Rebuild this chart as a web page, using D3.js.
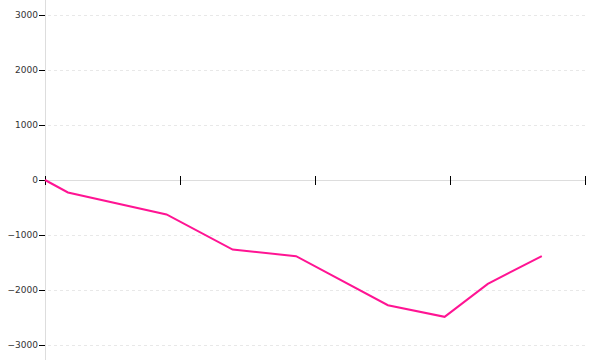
<!DOCTYPE html>
<html>
<head>
<meta charset="utf-8">
<script src="https://cdn.jsdelivr.net/npm/d3@7"></script>
<style>
  body { margin: 0; background: #fff; }
  svg { display: block; font-family: "DejaVu Sans", sans-serif; }
</style>
</head>
<body>
<div id="chart"></div>
<script>
// data
var xValues = [0, 0.17, 0.9, 1.39, 1.86, 2.54, 2.96, 3.28, 3.68];
var yValues = [0, -227, -627, -1264, -1385, -2276, -2488, -1888, -1385];
var xTicks = [0, 1, 2, 3, 4];
var yTicks = [-3000, -2000, -1000, 0, 1000, 2000, 3000];

var width = 600, height = 360;

var svg = d3.select("#chart")
  .append("svg")
  .attr("width", width)
  .attr("height", height);

var x = d3.scaleLinear().domain([0, 4]).range([45, 585]);
var y = d3.scaleLinear().domain([-3000, 3000]).range([345, 15]);

// dashed grid lines
svg.append("g")
  .selectAll("line")
  .data(yTicks.filter(function(d){ return d !== 0 }))
  .enter().append("line")
    .attr("x1", x(0) + 3)
    .attr("x2", x(4))
    .attr("y1", function(d){ return y(d) + 0.5 })
    .attr("y2", function(d){ return y(d) + 0.5 })
    .attr("stroke", "#e8e8e8")
    .attr("stroke-dasharray", "3,3")

// y axis: full height grey line + black ticks
svg.append("line")
  .attr("x1", x(0) + 0.5).attr("x2", x(0) + 0.5)
  .attr("y1", 0).attr("y2", height)
  .attr("stroke", "#dddddd")

var yAxis = svg.append("g")
  .attr("transform", "translate(" + x(0) + ",0)")
  .call(d3.axisLeft(y).tickValues(yTicks).tickSize(6).tickPadding(1).tickFormat(d3.format("d")))

yAxis.select(".domain").remove()
yAxis.selectAll(".tick line").attr("stroke", "#000")
yAxis.selectAll(".tick text")
  .attr("fill", "#333")
  .style("font-size", "9px")
  .style("font-family", "'DejaVu Sans', sans-serif")

// x axis at zero, ticks crossing the line, no labels
var xAxis = svg.append("g")
  .attr("transform", "translate(0," + y(0) + ")")
  .call(d3.axisBottom(x).tickValues(xTicks).tickSize(5).tickFormat(""))

xAxis.select(".domain").remove()
xAxis.insert("line", ":first-child")
  .attr("x1", x(0)).attr("x2", x(4))
  .attr("y1", 0.5).attr("y2", 0.5)
  .attr("stroke", "#dddddd")
xAxis.selectAll(".tick line")
  .attr("y1", -4)
  .attr("y2", 5)
  .attr("stroke", "#000")

// the line
var points = xValues.map(function(d, i){ return [d, yValues[i]] })

var line = d3.line()
  .x(function(d){ return x(d[0]) })
  .y(function(d){ return y(d[1]) })

svg.append("path")
  .datum(points)
  .attr("d", line)
  .attr("fill", "none")
  .attr("stroke", "#ff1493")
  .attr("stroke-width", 2)
</script>
</body>
</html>
